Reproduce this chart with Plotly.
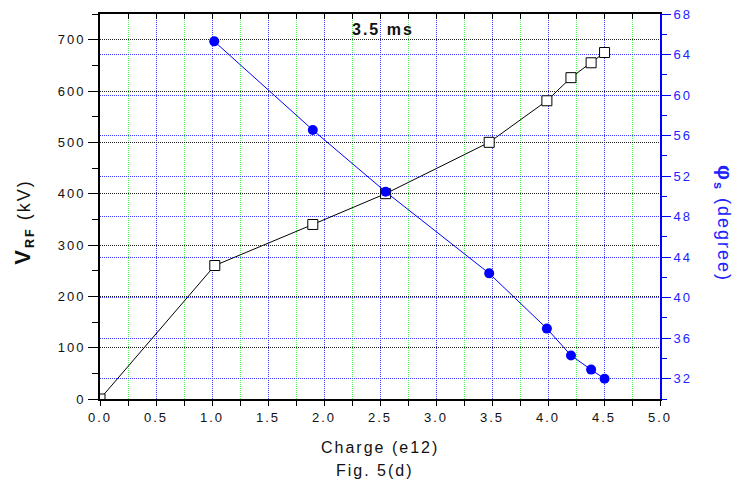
import plotly.graph_objects as go

# RF voltage versus bunch charge
charge_v = [0.0, 1.025, 1.9, 2.55, 3.475, 3.99, 4.205, 4.385, 4.505]
v_rf = [0, 260, 340, 400, 500, 581, 626, 655, 675]

# synchronous phase versus bunch charge
charge_phi = [1.02, 1.9, 2.55, 3.475, 3.99, 4.205, 4.385, 4.505]
phi_s = [65.3, 56.55, 50.45, 42.4, 36.95, 34.3, 32.9, 32.0]

FONT = "Liberation Sans, Arial, sans-serif"
BLUE = "#0000ff"
BLUE_GRID = "#3a3aff"
BLUE_TXT = "#2222ff"
GREEN = "#5cf05c"
DOT = "1px,1px"

fig = go.Figure()

fig.add_trace(go.Scatter(
    x=charge_v, y=v_rf, mode="lines+markers",
    line=dict(color="black", width=1),
    marker=dict(symbol="square", size=10, color="white",
                line=dict(color="black", width=1)),
    xaxis="x", yaxis="y", showlegend=False, hoverinfo="x+y",
))

fig.add_trace(go.Scatter(
    x=charge_phi, y=phi_s, mode="lines+markers",
    line=dict(color=BLUE, width=1),
    marker=dict(symbol="circle", size=10, color=BLUE,
                line=dict(color=BLUE, width=0)),
    xaxis="x", yaxis="y2", showlegend=False, hoverinfo="x+y",
))

# invisible carrier for the top axis with inward ticks
fig.add_trace(go.Scatter(
    x=charge_v, y=v_rf, mode="markers", marker=dict(opacity=0),
    xaxis="x2", yaxis="y", showlegend=False, hoverinfo="skip",
))

fig.update_layout(
    template="none",
    width=740, height=489,
    margin=dict(l=100, r=80, t=14, b=90, autoexpand=False),
    paper_bgcolor="white", plot_bgcolor="white",
    font=dict(family=FONT, size=13, color="#111111"),
    xaxis=dict(
        range=[0, 5], tick0=0, dtick=0.5, tickformat=".1f",
        showline=True, linecolor="black", linewidth=2,
        ticks="outside", ticklen=5, tickwidth=1, tickcolor="black",
        showgrid=True, gridcolor=BLUE_GRID, griddash=DOT, gridwidth=1,
        minor=dict(dtick=0.25, tick0=0, ticks="outside", ticklen=5,
                   tickcolor="black", showgrid=True,
                   gridcolor=GREEN, griddash=DOT, gridwidth=1),
        zeroline=False, automargin=False,
        tickfont=dict(size=13, color="#111111"),
    ),
    xaxis2=dict(
        matches="x", overlaying="x", side="top", anchor="y",
        range=[0, 5], tick0=0, dtick=0.25,
        showline=True, linecolor="black", linewidth=2,
        ticks="inside", ticklen=5, tickcolor="black",
        showticklabels=False, showgrid=False, zeroline=False,
        automargin=False,
    ),
    yaxis=dict(
        range=[0, 750], tick0=0, dtick=100,
        showline=True, linecolor="black", linewidth=2,
        ticks="outside", ticklen=10, tickwidth=1, tickcolor="black",
        showgrid=True, gridcolor="#222222", griddash=DOT, gridwidth=1,
        minor=dict(dtick=50, ticks="outside", ticklen=6,
                   tickcolor="black", showgrid=False),
        zeroline=False, automargin=False,
        tickfont=dict(size=13, color="#111111"),
    ),
    yaxis2=dict(
        range=[30, 68], tick0=0, dtick=4,
        overlaying="y", side="right", anchor="x",
        showline=True, linecolor=BLUE, linewidth=2,
        ticks="outside", ticklen=9, tickwidth=1, tickcolor=BLUE,
        showgrid=True, gridcolor=BLUE_GRID, griddash=DOT, gridwidth=1,
        minor=dict(dtick=2, ticks="outside", ticklen=5,
                   tickcolor=BLUE, showgrid=False),
        zeroline=False, automargin=False,
        tickfont=dict(size=13, color=BLUE_TXT),
    ),
)

centered = dict(xref="paper", yref="paper", xanchor="center",
                yanchor="middle", showarrow=False)

fig.add_annotation(
    text="<b>3.5 ms</b>", x=0.506, y=0.961,
    font=dict(family=FONT, size=16, color="#111111"), **centered,
)
fig.add_annotation(
    text="Charge (e12)", x=0.5, y=-0.127,
    font=dict(family=FONT, size=16, color="#111111"), **centered,
)
fig.add_annotation(
    text="Fig. 5(d)", x=0.491, y=-0.187,
    font=dict(family=FONT, size=16, color="#111111"), **centered,
)
fig.add_annotation(
    text="<b><span style='font-size:22px'>V</span></b><sub><b>RF</b></sub> (kV)",
    x=-0.136, y=0.46, textangle=-90,
    font=dict(family=FONT, size=18, color="#111111"), **centered,
)
fig.add_annotation(
    text="<b><span style='font-size:21px'>φ</span></b><sub><b>s</b></sub> (degree)",
    x=1.114, y=0.455, textangle=90,
    font=dict(family=FONT, size=18, color=BLUE_TXT), **centered,
)

spacing_js = """
document.querySelectorAll('.xtick text, .ytick text, .y2tick text').forEach(function(t){t.style.letterSpacing='2px';});
document.querySelectorAll('.annotation-text').forEach(function(t){t.style.letterSpacing='2px';});
"""

fig.write_html("out.html", post_script=spacing_js)
